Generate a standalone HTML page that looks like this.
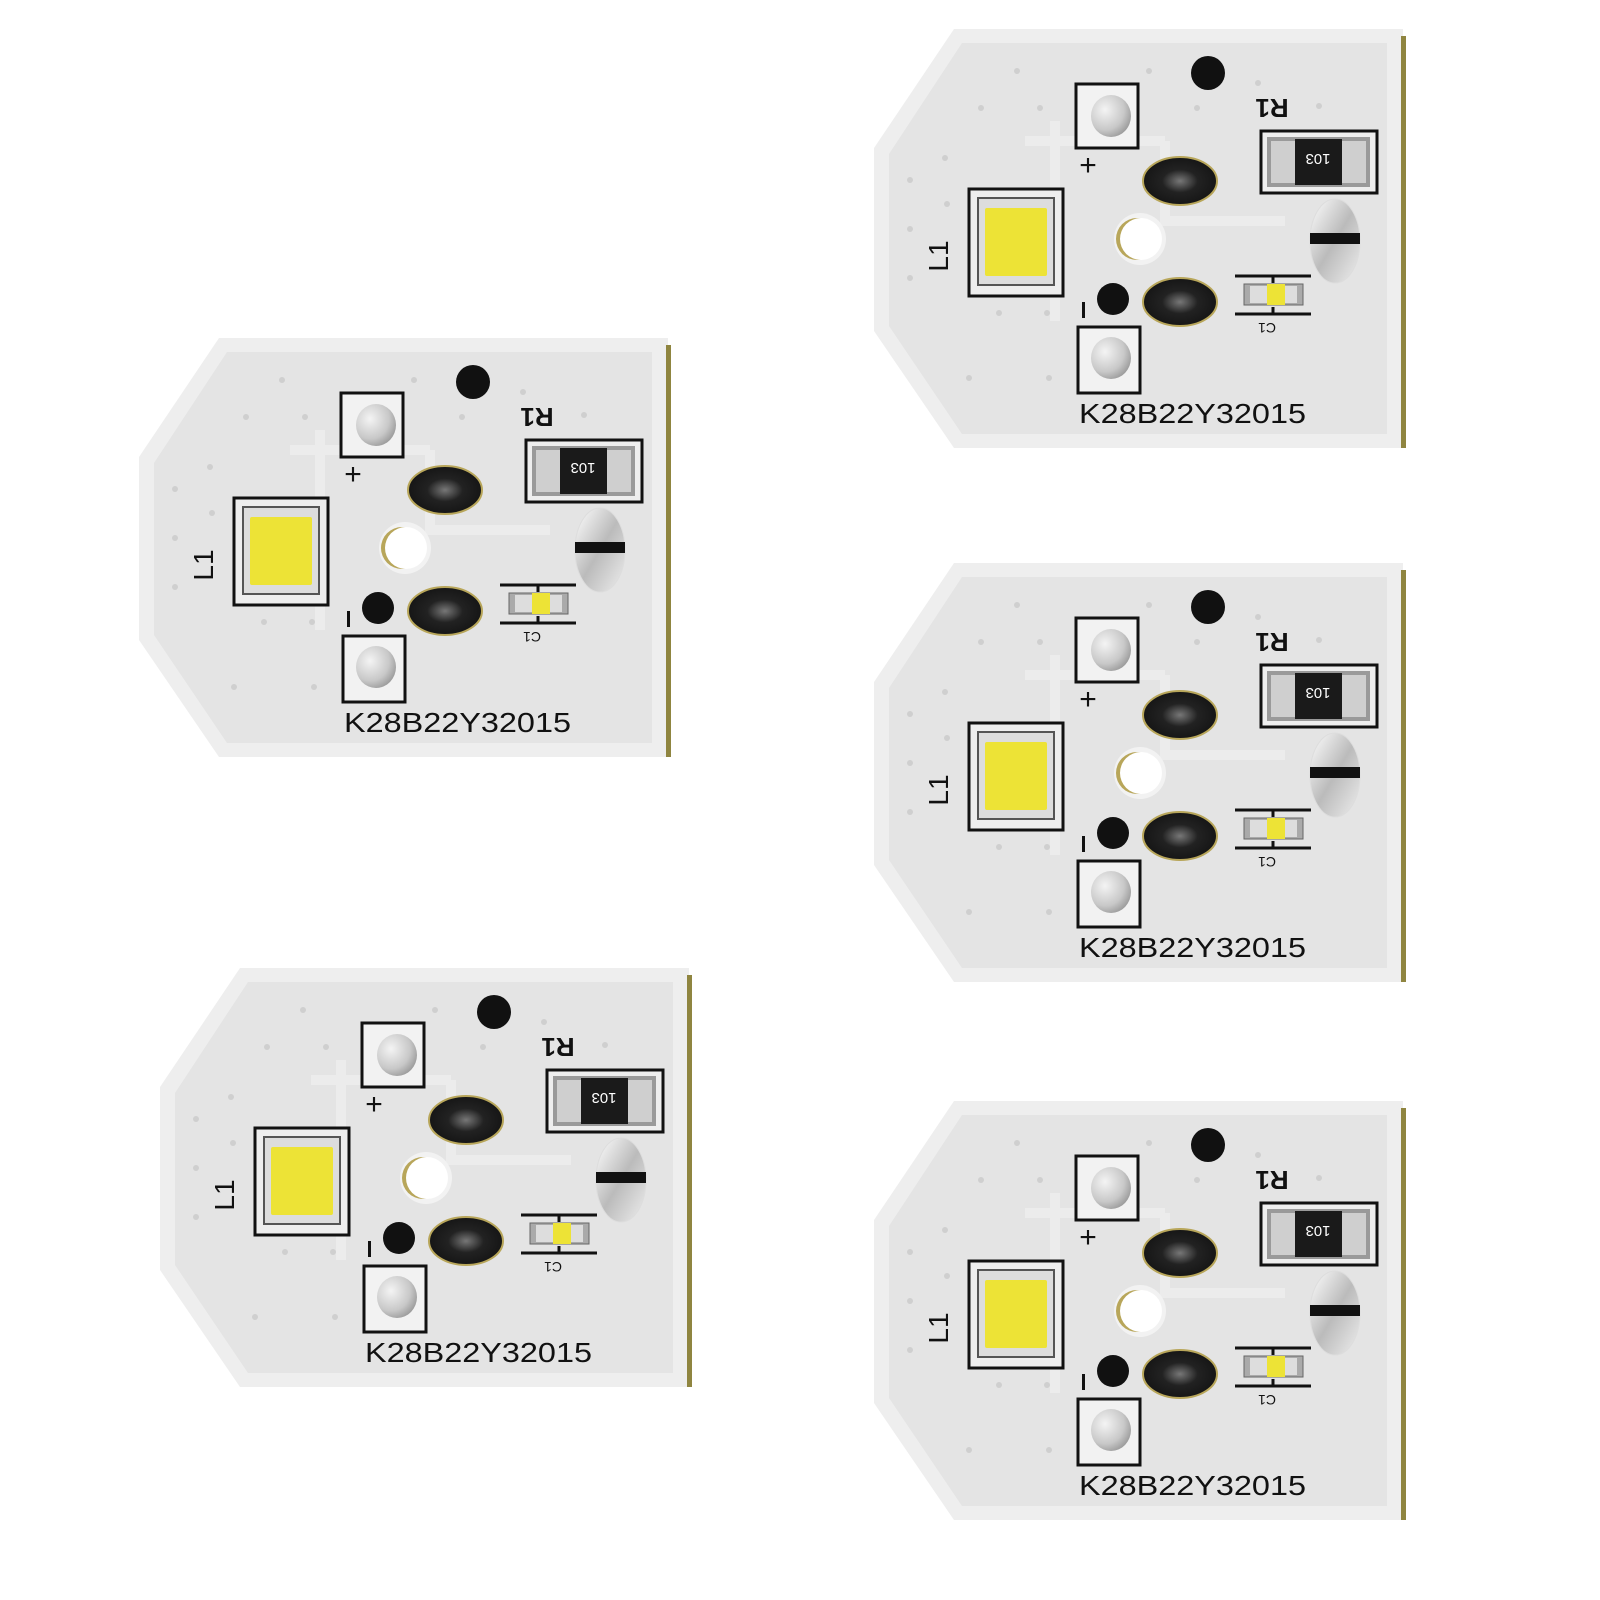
<!DOCTYPE html>
<html><head><meta charset="utf-8"><style>html,body{margin:0;padding:0;background:#fff}svg{display:block}</style></head><body>
<svg width="1600" height="1600" viewBox="0 0 1600 1600" xmlns="http://www.w3.org/2000/svg" font-family="Liberation Sans, sans-serif">
<defs>
<radialGradient id="pad" cx="0.35" cy="0.35" r="0.8"><stop offset="0" stop-color="#f4f4f4"/><stop offset="0.6" stop-color="#c8c8c8"/><stop offset="1" stop-color="#8a8a8a"/></radialGradient>
<radialGradient id="dk" cx="0.5" cy="0.5" r="0.6"><stop offset="0" stop-color="#777"/><stop offset="0.4" stop-color="#222"/><stop offset="1" stop-color="#111"/></radialGradient>
<linearGradient id="ov" x1="0" y1="0" x2="1" y2="1"><stop offset="0" stop-color="#fff"/><stop offset="0.5" stop-color="#bbb"/><stop offset="1" stop-color="#eee"/></linearGradient>
</defs>
<g id="b1" transform="translate(130,330)">
<polygon points="89,8 538,8 538,427 89,427 9,310 9,127" fill="#eeeeee"/>
<polygon points="97,22 522,22 522,413 97,413 24,305 24,133" fill="#e4e4e4"/>
<path d="M160,120 H300 M190,100 V300 M300,120 V200 H420" stroke="#ececec" stroke-width="10" fill="none"/>
<rect x="536" y="15" width="5" height="412" fill="#8f8540"/>
<g fill="#cfcfcf"><circle cx="152" cy="50" r="3"/><circle cx="284" cy="50" r="3"/><circle cx="393" cy="62" r="3"/><circle cx="116" cy="87" r="3"/><circle cx="175" cy="87" r="3"/><circle cx="332" cy="87" r="3"/><circle cx="454" cy="85" r="3"/><circle cx="80" cy="137" r="3"/><circle cx="45" cy="159" r="3"/><circle cx="82" cy="183" r="3"/><circle cx="45" cy="208" r="3"/><circle cx="45" cy="257" r="3"/><circle cx="134" cy="292" r="3"/><circle cx="182" cy="292" r="3"/><circle cx="104" cy="357" r="3"/><circle cx="184" cy="357" r="3"/></g>
<circle cx="343" cy="52" r="17" fill="#111"/>
<rect x="211" y="63" width="62" height="64" fill="#f2f2f2" stroke="#111" stroke-width="3"/>
<ellipse cx="246" cy="95" rx="20" ry="21" fill="url(#pad)"/>
<text x="223" y="154" font-size="30" text-anchor="middle" fill="#111">+</text>
<rect x="104" y="168" width="94" height="107" fill="#eee" stroke="#111" stroke-width="3"/>
<rect x="113" y="177" width="76" height="87" fill="#ddd" stroke="#555" stroke-width="2"/>
<rect x="120" y="187" width="62" height="68" fill="#ede336" rx="2"/>
<text transform="translate(83,235) rotate(-90)" font-size="28" text-anchor="middle" fill="#111">L1</text>
<ellipse cx="315" cy="160" rx="37" ry="24" fill="url(#dk)" stroke="#b8a65a" stroke-width="2"/>
<ellipse cx="315" cy="281" rx="37" ry="24" fill="url(#dk)" stroke="#b8a65a" stroke-width="2"/>
<circle cx="275" cy="218" r="26" fill="#f2f2f2"/>
<circle cx="272" cy="218" r="21" fill="#b8a65a"/>
<circle cx="276" cy="218" r="21" fill="#fff"/>
<circle cx="248" cy="278" r="16" fill="#111"/>
<rect x="217" y="281" width="3" height="16" fill="#111"/>
<rect x="213" y="306" width="62" height="66" fill="#f2f2f2" stroke="#111" stroke-width="3"/>
<ellipse cx="246" cy="337" rx="20" ry="21" fill="url(#pad)"/>
<text x="214" y="402" font-size="28" textLength="227" lengthAdjust="spacingAndGlyphs" fill="#111">K28B22Y32015</text>
<text transform="translate(407,78) rotate(180)" font-size="26" font-weight="bold" text-anchor="middle" fill="#111">R1</text>
<rect x="396" y="110" width="116" height="62" fill="#eee" stroke="#111" stroke-width="3"/>
<rect x="402" y="116" width="103" height="50" fill="#9a9a9a"/>
<rect x="406" y="120" width="95" height="42" fill="#cfcfcf"/>
<rect x="430" y="118" width="47" height="46" fill="#1a1a1a"/>
<text transform="translate(453,133) rotate(180)" font-size="15" text-anchor="middle" fill="#fff">103</text>
<ellipse cx="470" cy="220" rx="25" ry="42" fill="url(#ov)" stroke="#ddd"/>
<rect x="445" y="212" width="50" height="11" fill="#111"/>
<line x1="370" y1="255" x2="446" y2="255" stroke="#111" stroke-width="3"/>
<line x1="370" y1="293" x2="446" y2="293" stroke="#111" stroke-width="3"/>
<line x1="408" y1="255" x2="408" y2="262" stroke="#111" stroke-width="3"/>
<line x1="408" y1="286" x2="408" y2="293" stroke="#111" stroke-width="3"/>
<rect x="379" y="263" width="59" height="21" fill="#aaa" stroke="#666" stroke-width="1"/>
<rect x="385" y="265" width="47" height="17" fill="#ddd"/>
<rect x="402" y="263" width="18" height="21" fill="#ede336"/>
<text transform="translate(402,302) rotate(180)" font-size="14" text-anchor="middle" fill="#111">C1</text>
</g>
<g transform="translate(865,21)">
<polygon points="89,8 538,8 538,427 89,427 9,310 9,127" fill="#eeeeee"/>
<polygon points="97,22 522,22 522,413 97,413 24,305 24,133" fill="#e4e4e4"/>
<path d="M160,120 H300 M190,100 V300 M300,120 V200 H420" stroke="#ececec" stroke-width="10" fill="none"/>
<rect x="536" y="15" width="5" height="412" fill="#8f8540"/>
<g fill="#cfcfcf"><circle cx="152" cy="50" r="3"/><circle cx="284" cy="50" r="3"/><circle cx="393" cy="62" r="3"/><circle cx="116" cy="87" r="3"/><circle cx="175" cy="87" r="3"/><circle cx="332" cy="87" r="3"/><circle cx="454" cy="85" r="3"/><circle cx="80" cy="137" r="3"/><circle cx="45" cy="159" r="3"/><circle cx="82" cy="183" r="3"/><circle cx="45" cy="208" r="3"/><circle cx="45" cy="257" r="3"/><circle cx="134" cy="292" r="3"/><circle cx="182" cy="292" r="3"/><circle cx="104" cy="357" r="3"/><circle cx="184" cy="357" r="3"/></g>
<circle cx="343" cy="52" r="17" fill="#111"/>
<rect x="211" y="63" width="62" height="64" fill="#f2f2f2" stroke="#111" stroke-width="3"/>
<ellipse cx="246" cy="95" rx="20" ry="21" fill="url(#pad)"/>
<text x="223" y="154" font-size="30" text-anchor="middle" fill="#111">+</text>
<rect x="104" y="168" width="94" height="107" fill="#eee" stroke="#111" stroke-width="3"/>
<rect x="113" y="177" width="76" height="87" fill="#ddd" stroke="#555" stroke-width="2"/>
<rect x="120" y="187" width="62" height="68" fill="#ede336" rx="2"/>
<text transform="translate(83,235) rotate(-90)" font-size="28" text-anchor="middle" fill="#111">L1</text>
<ellipse cx="315" cy="160" rx="37" ry="24" fill="url(#dk)" stroke="#b8a65a" stroke-width="2"/>
<ellipse cx="315" cy="281" rx="37" ry="24" fill="url(#dk)" stroke="#b8a65a" stroke-width="2"/>
<circle cx="275" cy="218" r="26" fill="#f2f2f2"/>
<circle cx="272" cy="218" r="21" fill="#b8a65a"/>
<circle cx="276" cy="218" r="21" fill="#fff"/>
<circle cx="248" cy="278" r="16" fill="#111"/>
<rect x="217" y="281" width="3" height="16" fill="#111"/>
<rect x="213" y="306" width="62" height="66" fill="#f2f2f2" stroke="#111" stroke-width="3"/>
<ellipse cx="246" cy="337" rx="20" ry="21" fill="url(#pad)"/>
<text x="214" y="402" font-size="28" textLength="227" lengthAdjust="spacingAndGlyphs" fill="#111">K28B22Y32015</text>
<text transform="translate(407,78) rotate(180)" font-size="26" font-weight="bold" text-anchor="middle" fill="#111">R1</text>
<rect x="396" y="110" width="116" height="62" fill="#eee" stroke="#111" stroke-width="3"/>
<rect x="402" y="116" width="103" height="50" fill="#9a9a9a"/>
<rect x="406" y="120" width="95" height="42" fill="#cfcfcf"/>
<rect x="430" y="118" width="47" height="46" fill="#1a1a1a"/>
<text transform="translate(453,133) rotate(180)" font-size="15" text-anchor="middle" fill="#fff">103</text>
<ellipse cx="470" cy="220" rx="25" ry="42" fill="url(#ov)" stroke="#ddd"/>
<rect x="445" y="212" width="50" height="11" fill="#111"/>
<line x1="370" y1="255" x2="446" y2="255" stroke="#111" stroke-width="3"/>
<line x1="370" y1="293" x2="446" y2="293" stroke="#111" stroke-width="3"/>
<line x1="408" y1="255" x2="408" y2="262" stroke="#111" stroke-width="3"/>
<line x1="408" y1="286" x2="408" y2="293" stroke="#111" stroke-width="3"/>
<rect x="379" y="263" width="59" height="21" fill="#aaa" stroke="#666" stroke-width="1"/>
<rect x="385" y="265" width="47" height="17" fill="#ddd"/>
<rect x="402" y="263" width="18" height="21" fill="#ede336"/>
<text transform="translate(402,302) rotate(180)" font-size="14" text-anchor="middle" fill="#111">C1</text>
</g>
<g transform="translate(865,555)">
<polygon points="89,8 538,8 538,427 89,427 9,310 9,127" fill="#eeeeee"/>
<polygon points="97,22 522,22 522,413 97,413 24,305 24,133" fill="#e4e4e4"/>
<path d="M160,120 H300 M190,100 V300 M300,120 V200 H420" stroke="#ececec" stroke-width="10" fill="none"/>
<rect x="536" y="15" width="5" height="412" fill="#8f8540"/>
<g fill="#cfcfcf"><circle cx="152" cy="50" r="3"/><circle cx="284" cy="50" r="3"/><circle cx="393" cy="62" r="3"/><circle cx="116" cy="87" r="3"/><circle cx="175" cy="87" r="3"/><circle cx="332" cy="87" r="3"/><circle cx="454" cy="85" r="3"/><circle cx="80" cy="137" r="3"/><circle cx="45" cy="159" r="3"/><circle cx="82" cy="183" r="3"/><circle cx="45" cy="208" r="3"/><circle cx="45" cy="257" r="3"/><circle cx="134" cy="292" r="3"/><circle cx="182" cy="292" r="3"/><circle cx="104" cy="357" r="3"/><circle cx="184" cy="357" r="3"/></g>
<circle cx="343" cy="52" r="17" fill="#111"/>
<rect x="211" y="63" width="62" height="64" fill="#f2f2f2" stroke="#111" stroke-width="3"/>
<ellipse cx="246" cy="95" rx="20" ry="21" fill="url(#pad)"/>
<text x="223" y="154" font-size="30" text-anchor="middle" fill="#111">+</text>
<rect x="104" y="168" width="94" height="107" fill="#eee" stroke="#111" stroke-width="3"/>
<rect x="113" y="177" width="76" height="87" fill="#ddd" stroke="#555" stroke-width="2"/>
<rect x="120" y="187" width="62" height="68" fill="#ede336" rx="2"/>
<text transform="translate(83,235) rotate(-90)" font-size="28" text-anchor="middle" fill="#111">L1</text>
<ellipse cx="315" cy="160" rx="37" ry="24" fill="url(#dk)" stroke="#b8a65a" stroke-width="2"/>
<ellipse cx="315" cy="281" rx="37" ry="24" fill="url(#dk)" stroke="#b8a65a" stroke-width="2"/>
<circle cx="275" cy="218" r="26" fill="#f2f2f2"/>
<circle cx="272" cy="218" r="21" fill="#b8a65a"/>
<circle cx="276" cy="218" r="21" fill="#fff"/>
<circle cx="248" cy="278" r="16" fill="#111"/>
<rect x="217" y="281" width="3" height="16" fill="#111"/>
<rect x="213" y="306" width="62" height="66" fill="#f2f2f2" stroke="#111" stroke-width="3"/>
<ellipse cx="246" cy="337" rx="20" ry="21" fill="url(#pad)"/>
<text x="214" y="402" font-size="28" textLength="227" lengthAdjust="spacingAndGlyphs" fill="#111">K28B22Y32015</text>
<text transform="translate(407,78) rotate(180)" font-size="26" font-weight="bold" text-anchor="middle" fill="#111">R1</text>
<rect x="396" y="110" width="116" height="62" fill="#eee" stroke="#111" stroke-width="3"/>
<rect x="402" y="116" width="103" height="50" fill="#9a9a9a"/>
<rect x="406" y="120" width="95" height="42" fill="#cfcfcf"/>
<rect x="430" y="118" width="47" height="46" fill="#1a1a1a"/>
<text transform="translate(453,133) rotate(180)" font-size="15" text-anchor="middle" fill="#fff">103</text>
<ellipse cx="470" cy="220" rx="25" ry="42" fill="url(#ov)" stroke="#ddd"/>
<rect x="445" y="212" width="50" height="11" fill="#111"/>
<line x1="370" y1="255" x2="446" y2="255" stroke="#111" stroke-width="3"/>
<line x1="370" y1="293" x2="446" y2="293" stroke="#111" stroke-width="3"/>
<line x1="408" y1="255" x2="408" y2="262" stroke="#111" stroke-width="3"/>
<line x1="408" y1="286" x2="408" y2="293" stroke="#111" stroke-width="3"/>
<rect x="379" y="263" width="59" height="21" fill="#aaa" stroke="#666" stroke-width="1"/>
<rect x="385" y="265" width="47" height="17" fill="#ddd"/>
<rect x="402" y="263" width="18" height="21" fill="#ede336"/>
<text transform="translate(402,302) rotate(180)" font-size="14" text-anchor="middle" fill="#111">C1</text>
</g>
<g transform="translate(151,960)">
<polygon points="89,8 538,8 538,427 89,427 9,310 9,127" fill="#eeeeee"/>
<polygon points="97,22 522,22 522,413 97,413 24,305 24,133" fill="#e4e4e4"/>
<path d="M160,120 H300 M190,100 V300 M300,120 V200 H420" stroke="#ececec" stroke-width="10" fill="none"/>
<rect x="536" y="15" width="5" height="412" fill="#8f8540"/>
<g fill="#cfcfcf"><circle cx="152" cy="50" r="3"/><circle cx="284" cy="50" r="3"/><circle cx="393" cy="62" r="3"/><circle cx="116" cy="87" r="3"/><circle cx="175" cy="87" r="3"/><circle cx="332" cy="87" r="3"/><circle cx="454" cy="85" r="3"/><circle cx="80" cy="137" r="3"/><circle cx="45" cy="159" r="3"/><circle cx="82" cy="183" r="3"/><circle cx="45" cy="208" r="3"/><circle cx="45" cy="257" r="3"/><circle cx="134" cy="292" r="3"/><circle cx="182" cy="292" r="3"/><circle cx="104" cy="357" r="3"/><circle cx="184" cy="357" r="3"/></g>
<circle cx="343" cy="52" r="17" fill="#111"/>
<rect x="211" y="63" width="62" height="64" fill="#f2f2f2" stroke="#111" stroke-width="3"/>
<ellipse cx="246" cy="95" rx="20" ry="21" fill="url(#pad)"/>
<text x="223" y="154" font-size="30" text-anchor="middle" fill="#111">+</text>
<rect x="104" y="168" width="94" height="107" fill="#eee" stroke="#111" stroke-width="3"/>
<rect x="113" y="177" width="76" height="87" fill="#ddd" stroke="#555" stroke-width="2"/>
<rect x="120" y="187" width="62" height="68" fill="#ede336" rx="2"/>
<text transform="translate(83,235) rotate(-90)" font-size="28" text-anchor="middle" fill="#111">L1</text>
<ellipse cx="315" cy="160" rx="37" ry="24" fill="url(#dk)" stroke="#b8a65a" stroke-width="2"/>
<ellipse cx="315" cy="281" rx="37" ry="24" fill="url(#dk)" stroke="#b8a65a" stroke-width="2"/>
<circle cx="275" cy="218" r="26" fill="#f2f2f2"/>
<circle cx="272" cy="218" r="21" fill="#b8a65a"/>
<circle cx="276" cy="218" r="21" fill="#fff"/>
<circle cx="248" cy="278" r="16" fill="#111"/>
<rect x="217" y="281" width="3" height="16" fill="#111"/>
<rect x="213" y="306" width="62" height="66" fill="#f2f2f2" stroke="#111" stroke-width="3"/>
<ellipse cx="246" cy="337" rx="20" ry="21" fill="url(#pad)"/>
<text x="214" y="402" font-size="28" textLength="227" lengthAdjust="spacingAndGlyphs" fill="#111">K28B22Y32015</text>
<text transform="translate(407,78) rotate(180)" font-size="26" font-weight="bold" text-anchor="middle" fill="#111">R1</text>
<rect x="396" y="110" width="116" height="62" fill="#eee" stroke="#111" stroke-width="3"/>
<rect x="402" y="116" width="103" height="50" fill="#9a9a9a"/>
<rect x="406" y="120" width="95" height="42" fill="#cfcfcf"/>
<rect x="430" y="118" width="47" height="46" fill="#1a1a1a"/>
<text transform="translate(453,133) rotate(180)" font-size="15" text-anchor="middle" fill="#fff">103</text>
<ellipse cx="470" cy="220" rx="25" ry="42" fill="url(#ov)" stroke="#ddd"/>
<rect x="445" y="212" width="50" height="11" fill="#111"/>
<line x1="370" y1="255" x2="446" y2="255" stroke="#111" stroke-width="3"/>
<line x1="370" y1="293" x2="446" y2="293" stroke="#111" stroke-width="3"/>
<line x1="408" y1="255" x2="408" y2="262" stroke="#111" stroke-width="3"/>
<line x1="408" y1="286" x2="408" y2="293" stroke="#111" stroke-width="3"/>
<rect x="379" y="263" width="59" height="21" fill="#aaa" stroke="#666" stroke-width="1"/>
<rect x="385" y="265" width="47" height="17" fill="#ddd"/>
<rect x="402" y="263" width="18" height="21" fill="#ede336"/>
<text transform="translate(402,302) rotate(180)" font-size="14" text-anchor="middle" fill="#111">C1</text>
</g>
<g transform="translate(865,1093)">
<polygon points="89,8 538,8 538,427 89,427 9,310 9,127" fill="#eeeeee"/>
<polygon points="97,22 522,22 522,413 97,413 24,305 24,133" fill="#e4e4e4"/>
<path d="M160,120 H300 M190,100 V300 M300,120 V200 H420" stroke="#ececec" stroke-width="10" fill="none"/>
<rect x="536" y="15" width="5" height="412" fill="#8f8540"/>
<g fill="#cfcfcf"><circle cx="152" cy="50" r="3"/><circle cx="284" cy="50" r="3"/><circle cx="393" cy="62" r="3"/><circle cx="116" cy="87" r="3"/><circle cx="175" cy="87" r="3"/><circle cx="332" cy="87" r="3"/><circle cx="454" cy="85" r="3"/><circle cx="80" cy="137" r="3"/><circle cx="45" cy="159" r="3"/><circle cx="82" cy="183" r="3"/><circle cx="45" cy="208" r="3"/><circle cx="45" cy="257" r="3"/><circle cx="134" cy="292" r="3"/><circle cx="182" cy="292" r="3"/><circle cx="104" cy="357" r="3"/><circle cx="184" cy="357" r="3"/></g>
<circle cx="343" cy="52" r="17" fill="#111"/>
<rect x="211" y="63" width="62" height="64" fill="#f2f2f2" stroke="#111" stroke-width="3"/>
<ellipse cx="246" cy="95" rx="20" ry="21" fill="url(#pad)"/>
<text x="223" y="154" font-size="30" text-anchor="middle" fill="#111">+</text>
<rect x="104" y="168" width="94" height="107" fill="#eee" stroke="#111" stroke-width="3"/>
<rect x="113" y="177" width="76" height="87" fill="#ddd" stroke="#555" stroke-width="2"/>
<rect x="120" y="187" width="62" height="68" fill="#ede336" rx="2"/>
<text transform="translate(83,235) rotate(-90)" font-size="28" text-anchor="middle" fill="#111">L1</text>
<ellipse cx="315" cy="160" rx="37" ry="24" fill="url(#dk)" stroke="#b8a65a" stroke-width="2"/>
<ellipse cx="315" cy="281" rx="37" ry="24" fill="url(#dk)" stroke="#b8a65a" stroke-width="2"/>
<circle cx="275" cy="218" r="26" fill="#f2f2f2"/>
<circle cx="272" cy="218" r="21" fill="#b8a65a"/>
<circle cx="276" cy="218" r="21" fill="#fff"/>
<circle cx="248" cy="278" r="16" fill="#111"/>
<rect x="217" y="281" width="3" height="16" fill="#111"/>
<rect x="213" y="306" width="62" height="66" fill="#f2f2f2" stroke="#111" stroke-width="3"/>
<ellipse cx="246" cy="337" rx="20" ry="21" fill="url(#pad)"/>
<text x="214" y="402" font-size="28" textLength="227" lengthAdjust="spacingAndGlyphs" fill="#111">K28B22Y32015</text>
<text transform="translate(407,78) rotate(180)" font-size="26" font-weight="bold" text-anchor="middle" fill="#111">R1</text>
<rect x="396" y="110" width="116" height="62" fill="#eee" stroke="#111" stroke-width="3"/>
<rect x="402" y="116" width="103" height="50" fill="#9a9a9a"/>
<rect x="406" y="120" width="95" height="42" fill="#cfcfcf"/>
<rect x="430" y="118" width="47" height="46" fill="#1a1a1a"/>
<text transform="translate(453,133) rotate(180)" font-size="15" text-anchor="middle" fill="#fff">103</text>
<ellipse cx="470" cy="220" rx="25" ry="42" fill="url(#ov)" stroke="#ddd"/>
<rect x="445" y="212" width="50" height="11" fill="#111"/>
<line x1="370" y1="255" x2="446" y2="255" stroke="#111" stroke-width="3"/>
<line x1="370" y1="293" x2="446" y2="293" stroke="#111" stroke-width="3"/>
<line x1="408" y1="255" x2="408" y2="262" stroke="#111" stroke-width="3"/>
<line x1="408" y1="286" x2="408" y2="293" stroke="#111" stroke-width="3"/>
<rect x="379" y="263" width="59" height="21" fill="#aaa" stroke="#666" stroke-width="1"/>
<rect x="385" y="265" width="47" height="17" fill="#ddd"/>
<rect x="402" y="263" width="18" height="21" fill="#ede336"/>
<text transform="translate(402,302) rotate(180)" font-size="14" text-anchor="middle" fill="#111">C1</text>
</g>
</svg>
</body></html>
